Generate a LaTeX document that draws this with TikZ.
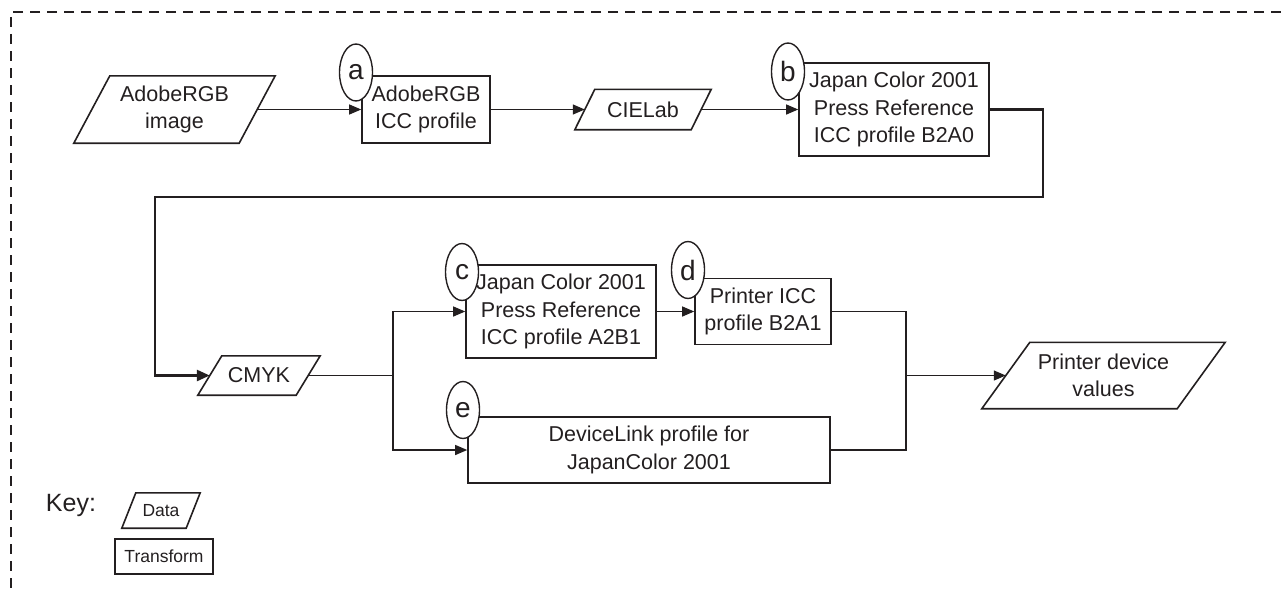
\documentclass[tikz,border=0pt]{standalone}
\usepackage{fontspec}
\setmainfont{Liberation Sans}
\usetikzlibrary{arrows.meta,shapes.geometric}
\definecolor{ink}{RGB}{35,31,32}
\newcommand\mf{\fontsize{21.5}{27.5}\selectfont}
\newcommand\paral[2]{\draw[dataline] ([xshift=#2]#1.north west) -- ([xshift=#2]#1.north east) -- ([xshift=-#2]#1.south east) -- ([xshift=-#2]#1.south west) -- cycle;}
\tikzset{
  box/.style={draw=ink, line width=1.6pt, inner sep=0pt, align=center, font=\mf, text=ink},
  dat/.style={inner sep=0pt, align=center, font=\mf, text=ink},
  dataline/.style={draw=ink, line width=1.6pt, line join=miter},
  tag/.style={ellipse, draw=ink, fill=white, line width=1.4pt, minimum width=33pt, minimum height=57pt, inner sep=0pt, font=\fontsize{28}{30}\selectfont, text=ink},
  conn/.style={draw=ink, line width=1.2pt, -{Triangle[length=12pt,width=10pt]}},
  plain/.style={draw=ink, line width=1.2pt},
  heavy/.style={draw=ink, line width=2.6pt, -{Triangle[length=13pt,width=11pt]}},
  border/.style={draw=ink, line width=1.3pt, dash pattern=on 10pt off 7pt},
}
\begin{document}
\begin{tikzpicture}[x=1pt,y=-1pt]
\useasboundingbox (0,0) rectangle (1281,594);
\draw[border] (1281,12) -- (11,12) -- (11,594);

% data nodes
\node[dat, minimum width=165pt, minimum height=67pt] (img) at (174.5,109.5) {AdobeRGB\\image};
\paral{img}{18pt}
\node[dat, minimum width=116pt, minimum height=40pt] (lab) at (643,109.5) {CIELab};
\paral{lab}{10pt}
\node[dat, minimum width=98pt, minimum height=39pt] (cmyk) at (259,375.5) {CMYK};
\paral{cmyk}{12pt}
\node[dat, minimum width=195pt, minimum height=66pt] (pdv) at (1103.5,375.5) {Printer device\\values};
\paral{pdv}{24pt}

% transforms
\node[box, minimum width=128pt, minimum height=67pt] (a) at (426,109.5) {AdobeRGB\\ICC profile};
\node[box, minimum width=190pt, minimum height=93pt] (b) at (894,109.5) {Japan Color 2001\\Press Reference\\ICC profile B2A0};
\node[box, minimum width=190pt, minimum height=93pt] (c) at (561,311.5) {Japan Color 2001\\Press Reference\\ICC profile A2B1};
\node[box, minimum width=136pt, minimum height=66pt] (d) at (763,311.5) {Printer ICC\\profile B2A1};
\node[box, minimum width=362pt, minimum height=66pt] (e) at (649,450) {DeviceLink profile for\\JapanColor 2001};

% connectors
\draw[conn] (img.east) -- (a.west);
\draw[conn] (a.east) -- (lab.west);
\draw[conn] (lab.east) -- (b.west);
\coordinate (r1) at (1043,197);
\coordinate (l1) at (155,197);
\draw[heavy, line join=miter] (b.east) -| (r1) -- (l1) |- (cmyk.west);
\coordinate (s) at (393,375.5);
\draw[plain] (cmyk.east) -- (s);
\draw[conn] (s) |- (c.west);
\draw[conn] (s) |- (e.west);
\draw[conn] (c.east) -- (d.west);
\coordinate (m) at (906,375.5);
\draw[plain] (d.east) -| (m);
\draw[plain] (e.east) -| (m);
\draw[conn] (m) -- (pdv.west);

% tags
\node[tag] (ta) at (356,72.5) {a};
\node[tag] (tb) at (788,71.5) {b};
\node[tag] (tc) at (462,272) {c};
\node[tag] (td) at (688,270) {d};
\node[tag] (te) at (463,410) {e};

% key
\node[inner sep=0pt, font=\fontsize{25}{28}\selectfont, text=ink] (key) at (71,505) {Key:};
\node[dat, minimum width=64pt, minimum height=35pt, font=\fontsize{17.5}{20}\selectfont] (kd) at (161,510.5) {Data};
\paral{kd}{7pt}
\node[box, minimum width=98pt, minimum height=35pt, font=\fontsize{17.5}{20}\selectfont] (kt) at (164,556.5) {Transform};
\end{tikzpicture}
\end{document}
